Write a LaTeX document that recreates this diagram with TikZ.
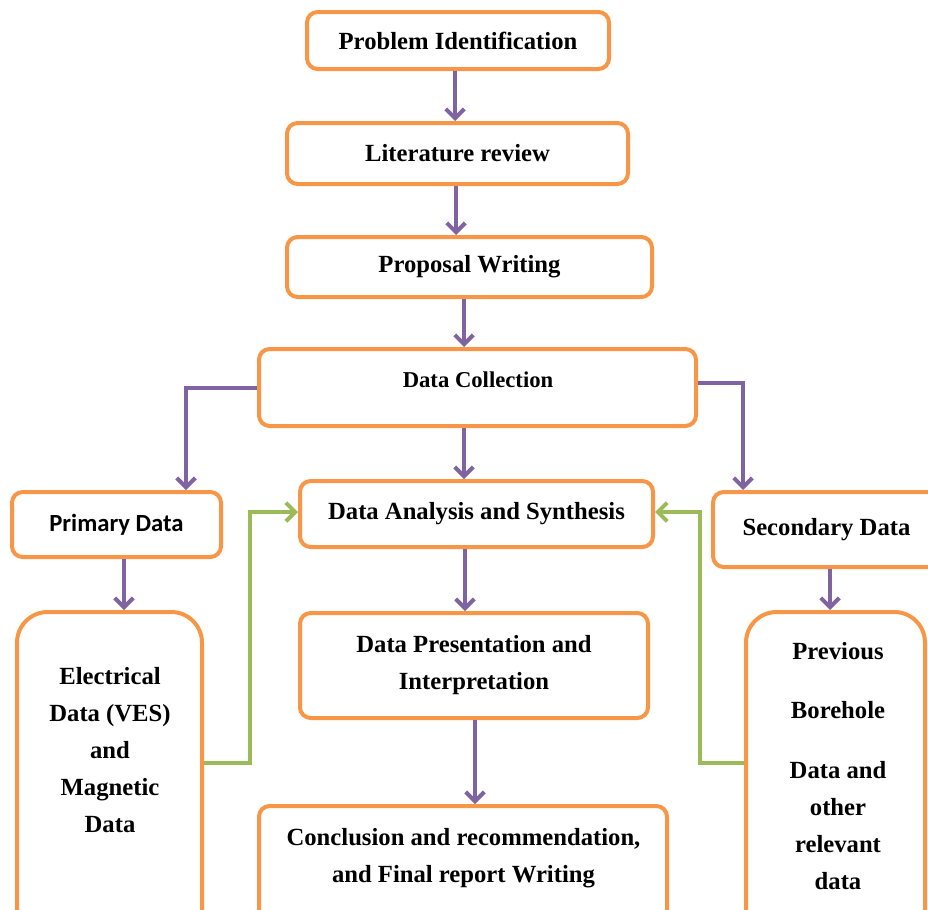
\documentclass[tikz,border=0pt]{standalone}
\usepackage{fontspec}
\setmainfont{Liberation Serif}
\newfontfamily\carl{Carlito}
\usetikzlibrary{arrows.meta,calc}
\definecolor{boxorange}{HTML}{F79646}
\definecolor{arrpurple}{HTML}{8064A2}
\definecolor{arrgreen}{HTML}{9BBB59}
\tikzset{
  box/.style={draw=boxorange, fill=white, line width=3pt, rounded corners=8pt, inner sep=0pt, align=center,
    font=\fontsize{18.5}{27.75}\selectfont\bfseries},
  tallbox/.style={box, rounded corners=23pt},
  txt/.style={inner sep=0pt, align=center, font=\fontsize{18.5}{27.75}\selectfont\bfseries},
  parrow/.style={draw=arrpurple, line width=3pt, -{Straight Barb[length=7pt,width=14pt]}},
  garrow/.style={draw=arrgreen, line width=3pt, -{Straight Barb[length=7pt,width=14pt]}}
}
\begin{document}
\begin{tikzpicture}[x=0.75pt,y=-0.75pt]
\useasboundingbox (0,0) rectangle (928,910);
\node[box, minimum width=226.5pt, minimum height=42.75pt] (pi) at (458,40.5) {Problem Identification};
\node[box, minimum width=255.75pt, minimum height=45.75pt] (lr) at (457.5,153.5) {Literature review};
\node[box, minimum width=273.75pt, minimum height=45pt] (pw) at (469.5,267) {Proposal Writing};
\node[box, minimum width=327.75pt, minimum height=57.75pt] (dc) at (477.5,387.5) {};
\node[txt, font=\fontsize{17}{20}\selectfont\bfseries] (dct) at (478,380) {Data Collection};
\node[box, minimum width=156.75pt, minimum height=48.75pt, font=\carl\fontsize{18.5}{22}\selectfont\bfseries] (pd) at (116.5,524.5) {Primary Data};
\node[box, minimum width=264.75pt, minimum height=49.5pt] (das) at (476.5,514) {Data Analysis and Synthesis};
\node[box, minimum width=170.25pt, minimum height=56.25pt] (sd) at (826.5,529.5) {Secondary Data};
\node[tallbox, minimum width=138.75pt, minimum height=276pt] (el) at (109.5,796) {};
\node[txt] (elt) at (110,750) {Electrical\\Data (VES)\\and\\Magnetic\\Data};
\node[box, minimum width=261pt, minimum height=78.75pt] (dp) at (474,665.5) {Data Presentation and\\Interpretation};
\node[tallbox, minimum width=134.25pt, minimum height=276pt] (pv) at (835.5,796) {};
\node[txt] (pvt) at (838,766) {Previous\\[17pt]Borehole\\[17pt]Data and\\other\\relevant\\data};
\node[box, minimum width=306pt, minimum height=130.5pt] (cc) at (463,893) {};
\node[txt] (cct) at (463.5,858) {Conclusion and recommendation,\\and Final report Writing};

\draw[parrow] (pi.south -| 455,0) -- (lr.north -| 455,0);
\draw[parrow] (lr.south -| 456,0) -- (pw.north -| 456,0);
\draw[parrow] (pw.south -| 464,0) -- (dc.north -| 464,0);
\draw[parrow] (dc.west |- 0,388) -| (pd.north -| 186,0);
\draw[parrow] (dc.east |- 0,383) -| (sd.north -| 743,0);
\draw[parrow] (dc.south -| 464,0) -- (das.north -| 464,0);
\draw[parrow] (pd.south -| 124,0) -- (el.north -| 124,0);
\draw[parrow] (das.south -| 465,0) -- (dp.north -| 465,0);
\draw[parrow] (dp.south -| 475,0) -- (cc.north -| 475,0);
\draw[parrow] (sd.south -| 830,0) -- (pv.north -| 830,0);
\draw[garrow] (el.east |- 0,763) -- (250,763) |- (das.west |- 0,512);
\draw[garrow] (pv.west |- 0,763) -- (700,763) |- (das.east |- 0,512);
\end{tikzpicture}
\end{document}
